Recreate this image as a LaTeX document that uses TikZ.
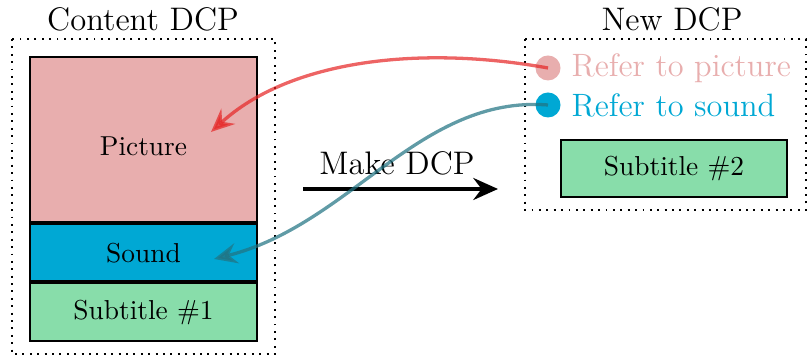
\documentclass[tikz,border=0pt]{standalone}
\usetikzlibrary{arrows.meta}
\definecolor{picfill}{RGB}{232,174,174}
\definecolor{sndfill}{RGB}{0,168,212}
\definecolor{subfill}{RGB}{136,221,170}
\definecolor{picarrow}{RGB}{230,40,40}
\definecolor{sndarrow}{RGB}{34,116,131}
\tikzset{
  track/.style={draw=black, line width=0.8pt, minimum width=227*0.365pt, inner sep=0pt},
  container/.style={draw=black, dotted, line width=0.7pt},
  heading/.style={font=\fontsize{11.9}{14}\selectfont, inner sep=0pt},
  reftext/.style={font=\fontsize{11.8}{14}\selectfont, anchor=west, inner sep=0pt},
  refdot/.style={circle, minimum size=25*0.365pt, inner sep=0pt},
  linkarrow/.style={line width=1.2pt, opacity=0.72, -{Stealth[length=8.5pt, width=7.5pt, inset=3pt]}},
}
\begin{document}
\begin{tikzpicture}[x=0.365pt, y=-0.365pt]
\useasboundingbox (0,0) rectangle (808,358);

% Content DCP: picture, sound and subtitle tracks
\draw[container] (12,39) rectangle (275,354);
\node[heading] (ctitle) at (143,19) {Content DCP};
\node[track, fill=picfill, minimum height=165*0.365pt] (pic) at (143.5,139.5) {};
\node (piclabel) at (143.5,146) {Picture};
\node[track, fill=sndfill, minimum height=57*0.365pt, anchor=north] (snd) at (pic.south) {Sound};
\node[track, fill=subfill, minimum height=58*0.365pt, anchor=north] (sub1) at (snd.south) {Subtitle \#1};

% New DCP: references plus its own subtitle
\draw[container] (525,39) rectangle (806,210);
\node[heading] (ntitle) at (672,19) {New DCP};
\node[refdot, fill=picfill] (rpic) at (548,68) {};
\node[refdot, fill=sndfill] (rsnd) at (548,105) {};
\node[reftext, text=picfill] (tpic) at (571,68) {Refer to picture};
\node[reftext, text=sndfill] (tsnd) at (571,105) {Refer to sound};
\node[track, fill=subfill, minimum width=226*0.365pt, minimum height=57*0.365pt] (sub2) at (674,168.5) {Subtitle \#2};

% Make DCP step
\coordinate (mstart) at (303,189);
\coordinate (mend) at (498,189);
\draw[line width=1.5pt, -{Stealth[length=9pt, width=8pt, inset=3pt]}] (mstart) -- (mend);
\node[heading] (mlabel) at (397,163) {Make DCP};

% Reference links back to the content tracks
\coordinate (picin) at (211,132);
\coordinate (sndin) at (214,259);
\draw[linkarrow, draw=picarrow] (rpic.center) .. controls (420,45) and (290,60) .. (picin);
\draw[linkarrow, draw=sndarrow] (rsnd.center) .. controls (420,95) and (350,225) .. (sndin);
\end{tikzpicture}
\end{document}
